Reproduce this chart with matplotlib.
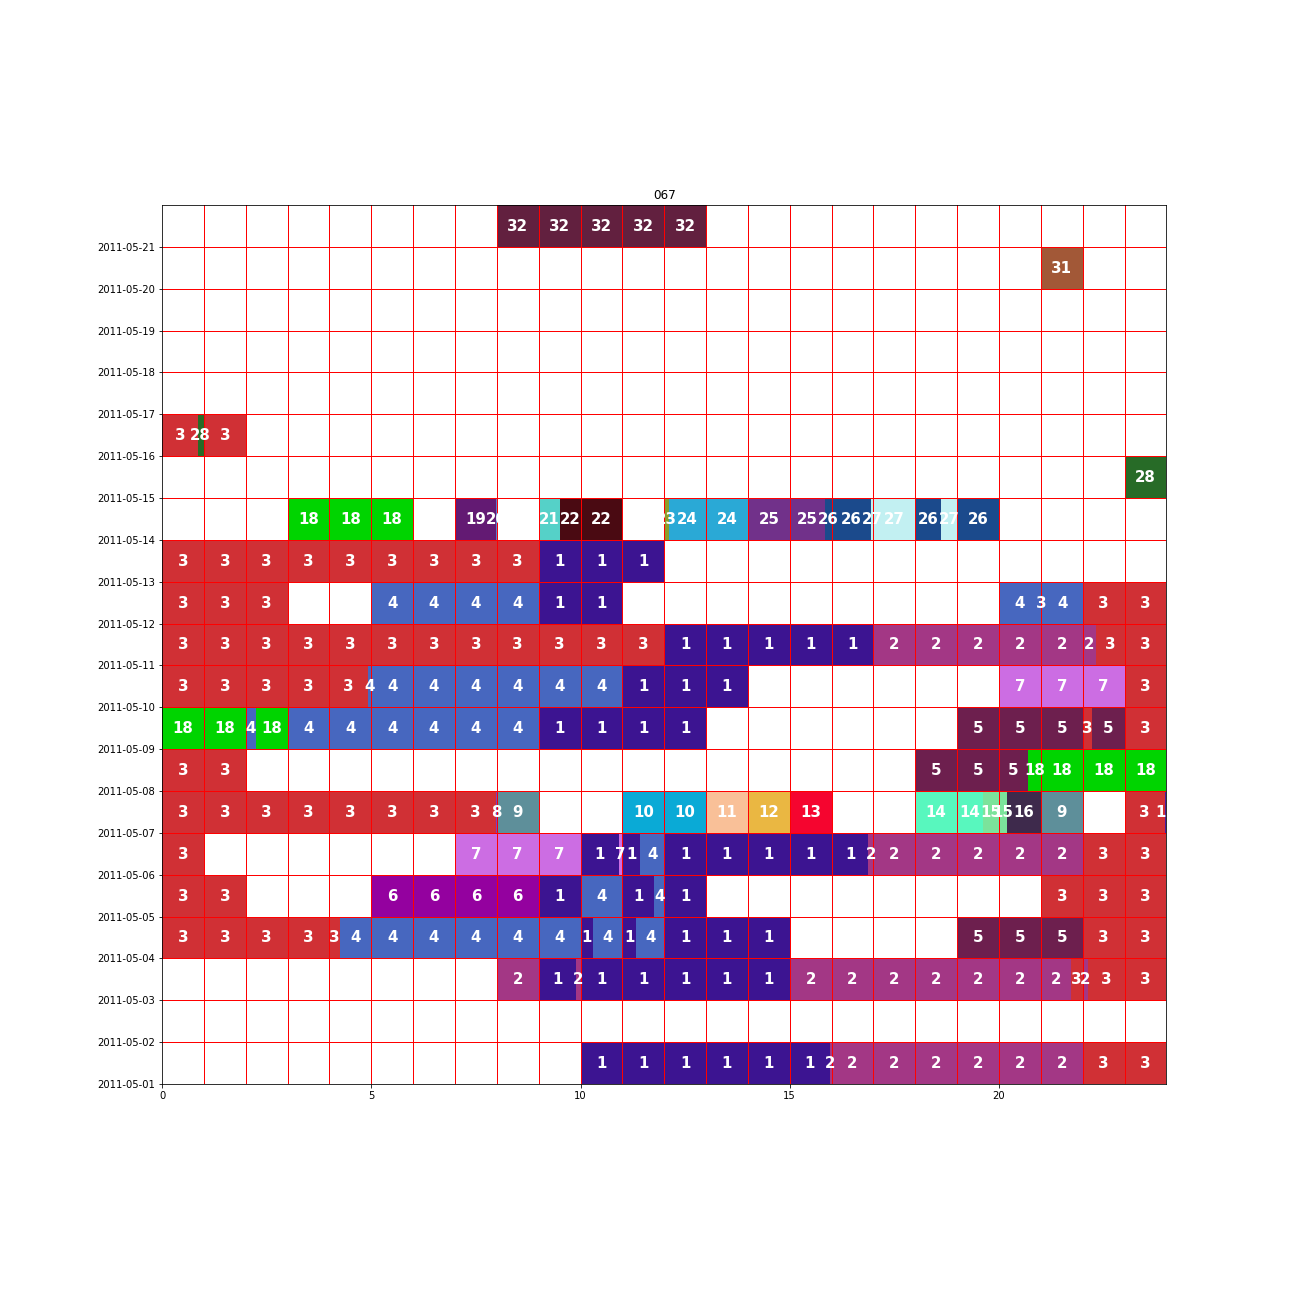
import matplotlib
matplotlib.use("Agg")
import matplotlib.pyplot as plt
import numpy as np

# ---- data: per day lists of (start_hour, end_hour, activity_code) ----
day01 = [(10, 15.95, 1), (15.95, 22, 2), (22, 24, 3)]
day02 = []
day03 = [(8, 9, 2), (9, 9.9, 1), (9.9, 10, 2), (10, 15, 1), (15, 21.71, 2),
         (21.71, 22, 3), (22, 22.13, 2), (22.13, 24, 3)]
day04 = [(0, 4.25, 3), (4.25, 10, 4), (10, 10.29, 1), (10.29, 11, 4), (11, 11.33, 1),
         (11.33, 12, 4), (12, 15, 1), (19, 22, 5), (22, 24, 3)]
day05 = [(0, 2, 3), (5, 9, 6), (9, 10, 1), (10, 11, 4), (11, 11.76, 1), (11.76, 12, 4),
         (12, 13, 1), (21, 24, 3)]
day06 = [(0, 1, 3), (7, 10, 7), (10, 10.91, 1), (10.91, 11, 7), (11, 11.43, 1),
         (11.43, 12, 4), (12, 16.88, 1), (16.88, 22, 2), (22, 24, 3)]
day07 = [(0, 7.98, 3), (7.98, 8, 8), (8, 9, 9), (11, 13, 10), (13, 14, 11), (14, 15, 12),
         (15, 16, 13), (18, 19.62, 14), (19.62, 20.18, 15), (20.18, 21, 16), (21, 22, 9),
         (23, 23.96, 3), (23.96, 24, 17)]
day08 = [(0, 2, 3), (18, 20.69, 5), (20.69, 24, 18)]
day09 = [(0, 2, 18), (2, 2.24, 4), (2.24, 3, 18), (3, 9, 4), (9, 13, 1), (19, 22, 5),
         (22, 22.22, 3), (22.22, 23, 5), (23, 24, 3)]
day10 = [(0, 4.92, 3), (4.92, 11, 4), (11, 14, 1), (20, 23, 7), (23, 24, 3)]
day11 = [(0, 12, 3), (12, 17, 1), (17, 22.31, 2), (22.31, 24, 3)]
day12 = [(0, 3, 3), (5, 9, 4), (9, 11, 1), (20, 21, 4), (21, 21.02, 3), (21.02, 22, 4),
         (22, 24, 3)]
day13 = [(0, 9, 3), (9, 12, 1)]
day14 = [(3, 6, 18), (7, 7.98, 19), (7.98, 8, 20), (9, 9.51, 21), (9.51, 11, 22),
         (12, 12.11, 23), (12.11, 14, 24), (14, 15.85, 25), (15.85, 16.93, 26),
         (16.93, 18, 27), (18, 18.62, 26), (18.62, 19, 27), (19, 20, 26)]
day15 = [(23, 24, 28)]
day16 = [(0, 0.85, 3), (0.85, 1, 28), (1, 2, 3)]
day17 = []
day18 = []
day19 = []
day20 = [(21, 22, 31)]
day21 = [(8, 13, 32)]

days = [day01, day02, day03, day04, day05, day06, day07, day08, day09, day10, day11,
        day12, day13, day14, day15, day16, day17, day18, day19, day20, day21]
date_labels = ["2011-05-%02d" % d for d in range(1, 22)]

codes = [1, 2, 3, 4, 5, 6, 7, 8, 9, 10, 11, 12, 13, 14, 15, 16, 17, 18, 19, 20,
         21, 22, 23, 24, 25, 26, 27, 28, 31, 32]
code_colors = ["#3C1491", "#A33785", "#D03035", "#4767BF", "#6D1F4E", "#94019F",
               "#CC6DE3", "#7B3FC4", "#5E8F9A", "#0AAAD6", "#F9C098", "#EAB742",
               "#F5052F", "#58F7BE", "#7BE39B", "#3E2A4C", "#4B1AA0", "#00D400",
               "#631A73", "#5A7FD0", "#55D1C8", "#4A0A12", "#8E9E2A", "#2AA9D6",
               "#71318A", "#1B4A8C", "#C2F0F2", "#276B27", "#A25837", "#62203F"]
color_of = dict(zip(codes, code_colors))

fig = plt.figure(figsize=(18, 18), dpi=72)
ax = fig.add_axes([0.125, 212 / 1296, 0.775, 879 / 1296])

for row, segs in enumerate(days):
    for (s, e, c) in segs:
        ax.barh(row, e - s, left=s, height=1.0, align="edge",
                color=color_of[c], linewidth=0, zorder=1)
        # label each hourly piece
        cuts = [s] + [h for h in range(int(np.floor(s)) + 1, int(np.ceil(e)))] + [e]
        for a, b in zip(cuts[:-1], cuts[1:]):
            if b - a <= 0:
                continue
            ax.text((a + b) / 2, row + 0.49, str(c), color="white", fontsize=15,
                    fontweight="bold", ha="center", va="center", zorder=3,
                    clip_on=True)

for x in range(1, 24):
    ax.axvline(x, color="red", lw=1.0, zorder=2)
for y in range(1, 21):
    ax.axhline(y, color="red", lw=1.0, zorder=2)

ax.set_xlim(0, 24)
ax.set_ylim(0, 21)
ax.set_xticks([0, 5, 10, 15, 20])
ax.set_yticks(range(21))
ax.set_yticklabels(date_labels)
ax.tick_params(labelsize=10)
ax.set_title("067", fontsize=12)

fig.savefig("out.png", dpi=72)
